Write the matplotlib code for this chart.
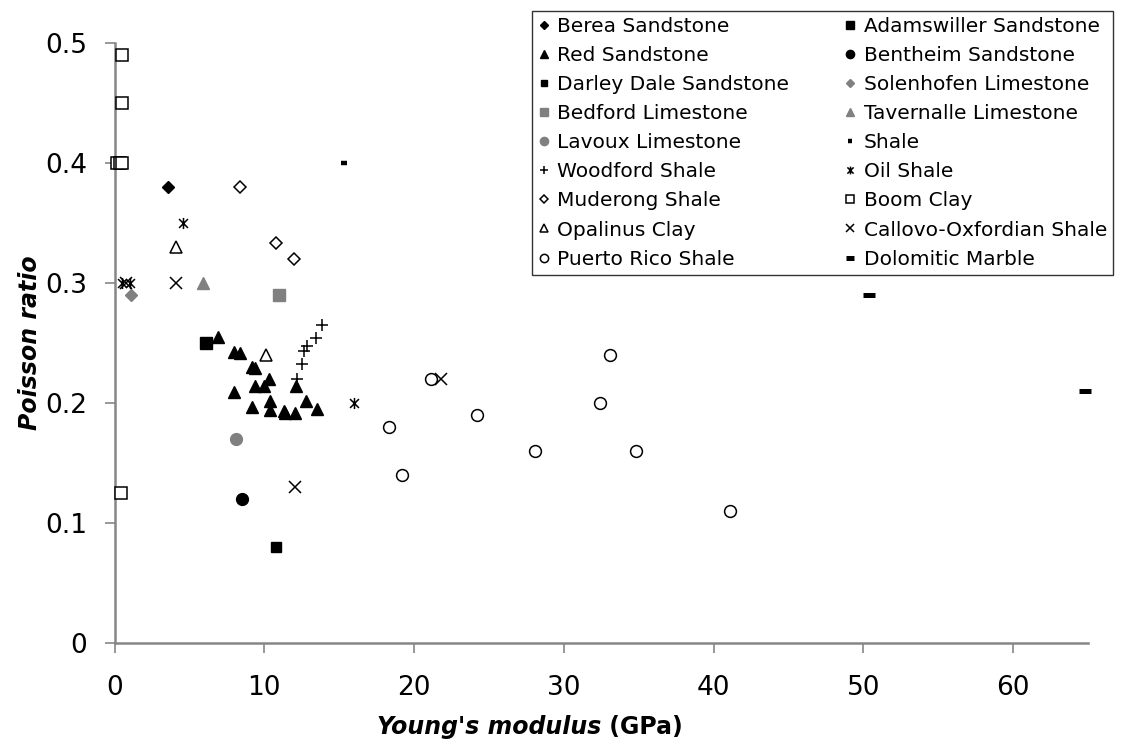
import matplotlib
matplotlib.use("Agg")
import matplotlib.pyplot as plt
from matplotlib.path import Path

plt.rcParams["font.family"] = ["DejaVu Sans"]

# Young's modulus (GPa) / Poisson ratio
berea_x = [3.6]
berea_y = [0.38]
adamswiller_x = [6.1]
adamswiller_y = [0.25]
red_x = [6.9, 8.0, 8.4, 9.2, 9.4, 9.4, 10.0, 10.3, 8.0, 12.1, 9.2, 10.4, 10.4, 11.3, 11.4, 12.05, 12.8, 13.5]
red_y = [0.255, 0.242, 0.241, 0.230, 0.229, 0.214, 0.214, 0.220, 0.209, 0.214, 0.196, 0.201, 0.194, 0.193,
         0.191, 0.191, 0.201, 0.195]
bentheim_x = [8.5]
bentheim_y = [0.12]
darley_x = [10.8]
darley_y = [0.08]
solenhofen_x = [1.1]
solenhofen_y = [0.29]
bedford_x = [11.0]
bedford_y = [0.29]
tavernalle_x = [5.9]
tavernalle_y = [0.30]
lavoux_x = [8.1]
lavoux_y = [0.17]
shale_x = [15.3]
shale_y = [0.40]
woodford_x = [12.2, 12.5, 12.65, 12.85, 13.45, 13.85]
woodford_y = [0.220, 0.232, 0.243, 0.247, 0.254, 0.265]
oil_x = [0.5, 1.0, 4.6, 16.0]
oil_y = [0.30, 0.30, 0.35, 0.20]
muderong_x = [8.4, 10.8, 12.0]
muderong_y = [0.38, 0.333, 0.32]
boom_x = [0.5, 0.5, 0.15, 0.35, 0.5, 0.4]
boom_y = [0.49, 0.45, 0.40, 0.40, 0.40, 0.125]
opalinus_x = [4.1, 10.1]
opalinus_y = [0.33, 0.24]
callovo_x = [0.75, 4.1, 12.05, 21.8]
callovo_y = [0.30, 0.30, 0.13, 0.22]
puerto_x = [18.3, 19.2, 21.1, 24.2, 28.1, 32.45, 33.1, 34.8, 41.1]
puerto_y = [0.18, 0.14, 0.22, 0.19, 0.16, 0.20, 0.24, 0.16, 0.11]
marble_x = [50.35, 64.8]
marble_y = [0.29, 0.21]

x_ticks = [0, 10, 20, 30, 40, 50, 60]
y_ticks = [0, 0.1, 0.2, 0.3, 0.4, 0.5]
y_tick_labels = ["0", "0.1", "0.2", "0.3", "0.4", "0.5"]

GREY = "#808080"
AXIS_GREY = "#868686"

star_marker = Path(
    [(-1, -1), (1, 1), (-1, 1), (1, -1), (0, -1.25), (0, 1.25)],
    [Path.MOVETO, Path.LINETO, Path.MOVETO, Path.LINETO, Path.MOVETO, Path.LINETO],
)

open_style = dict(mfc="white", mec="black", mew=1.1)

# series in the spreadsheet's order (legend reads row by row)
series = [
    ("Berea Sandstone", berea_x, berea_y, dict(marker="D", ms=6.5, color="black")),
    ("Adamswiller Sandstone", adamswiller_x, adamswiller_y, dict(marker="s", ms=8.5, color="black")),
    ("Red Sandstone", red_x, red_y, dict(marker="^", ms=9, color="black")),
    ("Bentheim Sandstone", bentheim_x, bentheim_y, dict(marker="o", ms=8.5, color="black")),
    ("Darley Dale Sandstone", darley_x, darley_y, dict(marker="s", ms=6.5, color="black")),
    ("Solenhofen Limestone", solenhofen_x, solenhofen_y, dict(marker="D", ms=6.5, color=GREY)),
    ("Bedford Limestone", bedford_x, bedford_y, dict(marker="s", ms=8.5, color=GREY)),
    ("Tavernalle Limestone", tavernalle_x, tavernalle_y, dict(marker="^", ms=9, color=GREY)),
    ("Lavoux Limestone", lavoux_x, lavoux_y, dict(marker="o", ms=8.5, color=GREY)),
    ("Shale", shale_x, shale_y, dict(marker="_", ms=5, mew=3.2, color="black")),
    ("Woodford Shale", woodford_x, woodford_y, dict(marker="+", ms=9, mew=1.1, color="black")),
    ("Oil Shale", oil_x, oil_y, dict(marker=star_marker, ms=8, mew=1.1, mfc="none", mec="black")),
    ("Muderong Shale", muderong_x, muderong_y, dict(marker="D", ms=6.5, **open_style)),
    ("Boom Clay", boom_x, boom_y, dict(marker="s", ms=8, **open_style)),
    ("Opalinus Clay", opalinus_x, opalinus_y, dict(marker="^", ms=9, **open_style)),
    ("Callovo-Oxfordian Shale", callovo_x, callovo_y, dict(marker="x", ms=8, mew=1.1, color="black")),
    ("Puerto Rico Shale", puerto_x, puerto_y, dict(marker="o", ms=8.5, **open_style)),
    ("Dolomitic Marble", marble_x, marble_y, dict(marker="_", ms=8.5, mew=3.6, color="black")),
]

fig = plt.figure(figsize=(11.24, 7.4), dpi=100)
ax = fig.add_axes([0.1019, 0.1316, 0.866, 0.8108])

handles = []
for label, xs, ys, style in series:
    (line,) = ax.plot(xs, ys, linestyle="none", label=label, clip_on=False, zorder=3, **style)
    handles.append(line)

ax.set_xlim(0, 65)
ax.set_ylim(0, 0.5)
ax.set_xticks(x_ticks)
ax.set_yticks(y_ticks)
ax.set_yticklabels(y_tick_labels)

for side in ("top", "right"):
    ax.spines[side].set_visible(False)
for side in ("left", "bottom"):
    ax.spines[side].set_color(AXIS_GREY)
    ax.spines[side].set_linewidth(1.8)
ax.tick_params(axis="both", direction="out", length=7, width=1.2, color=AXIS_GREY, labelsize=19)
ax.tick_params(axis="x", pad=16)
ax.tick_params(axis="y", pad=13)

ax.set_ylabel("Poisson ratio", fontsize=17, fontweight="bold", fontstyle="italic", labelpad=2)

# x label: italic name + upright unit
ax.text(0.5, -0.14, "Young's modulus", transform=ax.transAxes, ha="right", va="center",
        fontsize=17, fontweight="bold", fontstyle="italic")
ax.text(0.5, -0.14, " (GPa)", transform=ax.transAxes, ha="left", va="center",
        fontsize=17, fontweight="bold")

legend_order = handles[0::2] + handles[1::2]
legend = fig.legend(
    legend_order,
    [h.get_label() for h in legend_order],
    loc="upper left",
    bbox_to_anchor=(532 / 1124, 0, 581 / 1124, 1 - 11 / 740),
    mode="expand",
    ncol=2,
    fontsize=14.5,
    frameon=True,
    fancybox=False,
    markerscale=0.7,
    handlelength=0.6,
    handletextpad=0.35,
    labelspacing=0.5,
    borderpad=0.3,
    borderaxespad=0,
)
legend.get_frame().set_edgecolor("black")
legend.get_frame().set_linewidth(1.0)

fig.savefig("out.png", dpi=100)
